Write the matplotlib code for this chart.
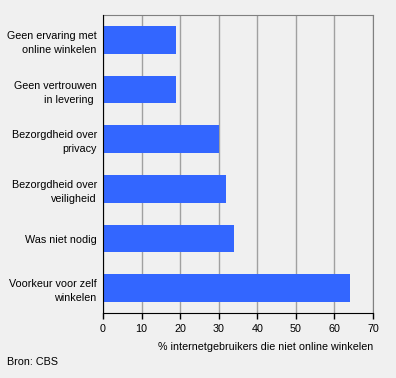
import matplotlib.pyplot as plt

plt.rcParams['font.family'] = ['Liberation Sans', 'DejaVu Sans']

# ── Data ─────────────────────────────────────────────────────────
categories = [
    "Geen ervaring met\nonline winkelen",
    "Geen vertrouwen\nin levering ",
    "Bezorgdheid over\nprivacy",
    "Bezorgdheid over\nveiligheid",
    "Was niet nodig",
    "Voorkeur voor zelf\nwinkelen",
]
values = [19, 19, 30, 32, 34, 64]
xticks = [0, 10, 20, 30, 40, 50, 60, 70]

bg = "#f0f0f0"
fs = 7.75

fig = plt.figure(figsize=(3.96, 3.78), dpi=100, facecolor=bg)
ax = fig.add_axes([103 / 396, 1 - 313 / 378, 270 / 396, 298 / 378])
ax.set_facecolor(bg)

ypos = list(range(len(categories)))
ax.barh(ypos, values, height=0.56, color="#3366ff", zorder=3)

ax.set_xlim(0, 70)
ax.set_ylim(len(categories) - 0.5, -0.5)
ax.set_xticks(xticks)
ax.set_yticks(ypos)
ax.set_yticklabels(categories, fontsize=fs, linespacing=1.5)
ax.tick_params(axis="y", length=0, pad=4.5)
ax.tick_params(axis="x", length=4, width=1, color="black", labelsize=fs, pad=4)

ax.grid(axis="x", color="#a0a0a0", linewidth=1, zorder=1)
for s in ["top", "right"]:
    ax.spines[s].set_color("#808080")
for s in ["left", "bottom"]:
    ax.spines[s].set_color("black")
    ax.spines[s].set_zorder(4)

ax.set_xlabel("% internetgebruikers die niet online winkelen",
              fontsize=fs, loc="right", labelpad=6)

fig.text(7 / 396, 1 - 362 / 378, "Bron: CBS", fontsize=fs, va="center")

fig.savefig("out.png", dpi=100, facecolor=bg)
plt.close()
